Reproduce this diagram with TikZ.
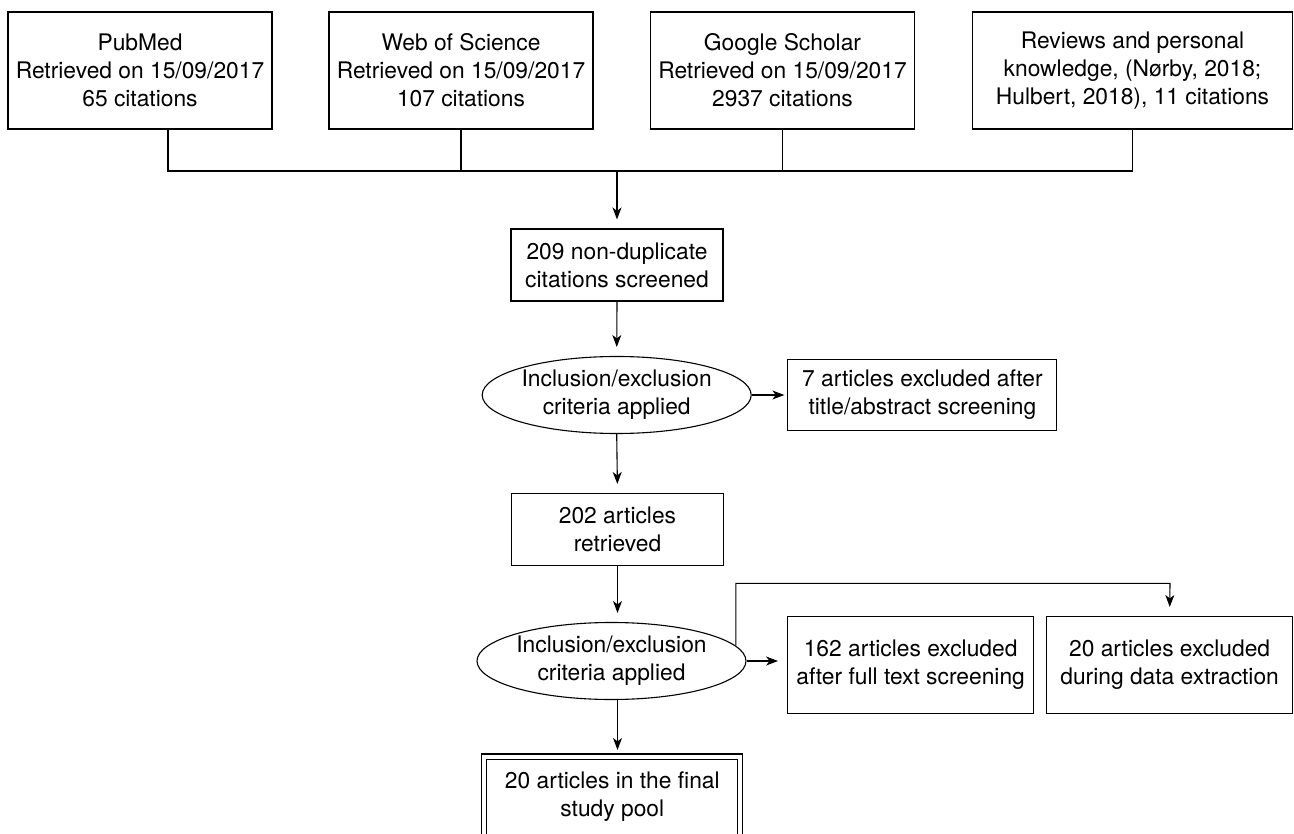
\documentclass[tikz,border=0pt]{standalone}
\usepackage{fontspec}
\setmainfont{TeX Gyre Heros}
\usetikzlibrary{shapes.geometric,arrows.meta}

\begin{document}
\begin{tikzpicture}[x=1pt, y=-1pt, line width=1.1pt,
    font=\fontsize{22.8}{28}\selectfont,
    box/.style={draw, rectangle, align=center, inner sep=0pt},
    crit/.style={draw, ellipse, align=center, inner sep=0pt, minimum width=239pt, minimum height=77pt},
    arr/.style={-{Stealth[length=12pt,width=9pt,inset=3.5pt]}, shorten >=9pt}]
    \useasboundingbox (0,0) rectangle (1294,834);
    \node[box, minimum width=264pt, minimum height=117pt] (pubmed) at (140,70.5) {PubMed\\Retrieved on 15/09/2017\\65 citations};
    \node[box, minimum width=264pt, minimum height=117pt] (wos) at (461,70.5) {Web of Science\\Retrieved on 15/09/2017\\107 citations};
    \node[box, minimum width=264pt, minimum height=117pt] (google) at (782.5,70.5) {Google Scholar\\Retrieved on 15/09/2017\\2937 citations};
    \node[box, minimum width=320pt, minimum height=117pt] (reviews) at (1132.5,70.5) {Reviews and personal\\knowledge, (Nørby, 2018;\\Hulbert, 2018), 11 citations};
    \node[box, minimum width=212pt, minimum height=72pt] (screen) at (617,265) {209 non-duplicate\\citations screened};
    \node[crit] (incl1) at (616.7,395) {Inclusion/exclusion\\criteria applied};
    \node[box, minimum width=269pt, minimum height=71.5pt] (excl1) at (922.4,395) {7 articles excluded after\\title/abstract screening};
    \node[box, minimum width=212pt, minimum height=72pt] (retrieved) at (617.5,529.5) {202 articles\\retrieved};
    \node[crit] (incl2) at (611.5,661) {Inclusion/exclusion\\criteria applied};
    \node[box, minimum width=246pt, minimum height=97pt] (excl2) at (910.6,665) {162 articles excluded\\after full text screening};
    \node[box, minimum width=245.6pt, minimum height=97pt] (excl3) at (1169.6,665) {20 articles excluded\\during data extraction};
    \node[box, double, double distance=4pt, minimum width=256pt, minimum height=81pt] (final) at (612.3,797) {20 articles in the final\\study pool};
    \coordinate (busL) at (168,171);
    \coordinate (turn) at (1170,583.3);
    \draw (pubmed.south -| busL) -- (busL) -- (busL -| reviews.south) -- (reviews.south);
    \draw (wos.south) -- (wos.south |- busL);
    \draw (google.south) -- (google.south |- busL);
    \draw[arr] (screen.north |- busL) -- (screen.north);
    \draw[arr] (screen.south) -- (incl1.north);
    \draw[arr, shorten >=3pt] (incl1.east) -- (excl1.west);
    \draw[arr] (incl1.south) -- (retrieved.north);
    \draw[arr] (retrieved.south) -- (retrieved.south |- incl2.north);
    \draw[arr] (incl2.east) -- (incl2.east -| excl2.west);
    \draw[arr] (incl2.7) |- (turn) -- (excl3.north);
    \draw[arr, shorten >=6pt] (retrieved.south |- incl2.south) -- (retrieved.south |- final.north);
\end{tikzpicture}
\end{document}
